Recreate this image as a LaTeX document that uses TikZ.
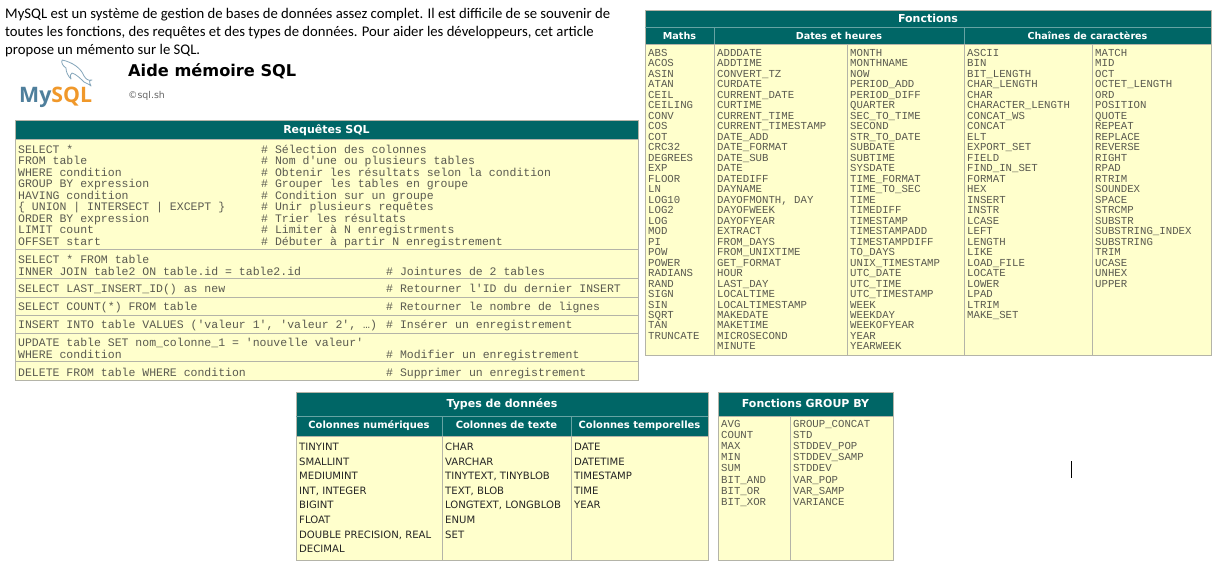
\documentclass[tikz,border=0pt]{standalone}
\usepackage{fontspec}
\setmainfont{Carlito}
\newfontfamily\monof{Liberation Mono}
\newfontfamily\dejav{DejaVu Sans}
\newfontfamily\logof{Open Sans}
\definecolor{teal1}{HTML}{006666}
\definecolor{cream}{HTML}{FFFFCC}
\definecolor{rulec}{HTML}{B4B4A8}
\definecolor{monoc}{HTML}{5A5A50}
\definecolor{logob}{HTML}{4F7F9C}
\definecolor{logoo}{HTML}{F0982A}
\tikzset{
  x=1pt,y=-1pt,
  intro/.style={anchor=west,inner sep=0pt,text height=7pt,text depth=0pt,font=\fontsize{14.7}{14.7}\selectfont,text=black},
  head/.style={fill=teal1,draw=rulec,line width=.8pt},
  body/.style={fill=cream,draw=rulec,line width=.8pt},
  sep/.style={draw=rulec,line width=1pt},
  hsep/.style={draw=teal1!60!white,line width=.8pt},
  title/.style={text=white,inner sep=0pt,text height=8pt,text depth=0pt,font=\dejav\bfseries\fontsize{11}{11}\selectfont},
  sub/.style={text=white,inner sep=0pt,text height=7pt,text depth=0pt,font=\dejav\bfseries\fontsize{9.6}{9.6}\selectfont},
  subb/.style={sub,font=\dejav\bfseries\fontsize{9.95}{9.95}\selectfont},
  req/.style={anchor=west,inner sep=0pt,text height=7pt,text depth=0pt,text=monoc,font=\monof\fontsize{11.5}{11.5}\selectfont},
  fn/.style={anchor=west,inner sep=0pt,text height=7pt,text depth=0pt,text=monoc,font=\monof\fontsize{10.7}{10.7}\selectfont},
  typ/.style={anchor=west,inner sep=0pt,text height=7pt,text depth=0pt,text=black!85,font=\dejav\fontsize{10.1}{10.1}\selectfont},
}
% column of names: x, first y, spacing, style, name prefix, list
\newcommand{\colonne}[6]{%
  \foreach \t [count=\i from 0] in {#6}{%
    \node[#4] (#5\i) at (#1,{#2+\i*#3}) {\t};}}
\begin{document}
\begin{tikzpicture}
\useasboundingbox (0,0) rectangle (1224,583);
\fill[white] (0,0) rectangle (1224,583);
% intro
\node[intro] (i1) at (5,15) {MySQL est un système de gestion de bases de données assez complet. Il est difficile de se souvenir de};
\node[intro] (i2) at (5,33) {toutes les fonctions, des requêtes et des types de données. Pour aider les développeurs, cet article};
\node[intro] (i3) at (5,51) {propose un mémento sur le SQL.};
% logo
\node[anchor=west,inner sep=0pt,text height=15pt,text depth=0pt,text=logob,font=\logof\bfseries\fontsize{21.3}{21.3}\selectfont] (l1) at (19,95) {My\textcolor{logoo}{SQL}};
\draw[logob!70!white,line width=.8pt,fill=white,line join=round]
  (62,60) .. controls (61,63) and (63,66) .. (66,68)
  .. controls (66,72) and (68,76) .. (71,79) .. controls (70,76) and (70,74) .. (72,73)
  .. controls (76,74) and (81,79) .. (84,82) .. controls (86,84) and (88,83) .. (91,86)
  .. controls (89,82) and (89,80) .. (92,80) .. controls (88,81) and (86,79) .. (84,76)
  .. controls (81,68) and (72,62) .. (62,60);
\node[anchor=west,inner sep=0pt,text height=12pt,text depth=0pt,font=\dejav\bfseries\fontsize{16.2}{16.2}\selectfont] (t1) at (128,71) {Aide mémoire SQL};
\node[anchor=west,inner sep=0pt,text height=7pt,text depth=0pt,text=black!60,font=\dejav\fontsize{9.4}{9.4}\selectfont] (t2) at (128,95) {©sql.sh};
% ---------- Requetes
\draw[body] (15,139) rectangle (638,380);
\draw[head] (15,120) rectangle (638,139);
\node[title] (rt) at (326.5,130) {Requêtes SQL};
\foreach \yy in {249,278,297,315,333,361}{\draw[sep] (15,\yy) -- (638,\yy);}
\colonne{18}{149.7}{11.5}{req}{ra}{SELECT *,FROM table,WHERE condition,GROUP BY expression,HAVING condition,{\{ UNION | INTERSECT | EXCEPT \}},ORDER BY expression,LIMIT count,OFFSET start}
\colonne{261}{149.7}{11.5}{req}{rb}{\# Sélection des colonnes,\# Nom d'une ou plusieurs tables,\# Obtenir les résultats selon la condition,\# Grouper les tables en groupe,\# Condition sur un groupe,\# Unir plusieurs requêtes,\# Trier les résultats,\# Limiter à N enregistrments,\# Débuter à partir N enregistrement}
\node[req] (rc1) at (18,259.7) {SELECT * FROM table};
\node[req] (rc2) at (18,271.7) {INNER JOIN table2 ON table.id = table2.id};
\node[req] (rc3) at (18,288.7) {SELECT LAST\_INSERT\_ID() as new};
\node[req] (rc4) at (18,306.7) {SELECT COUNT(*) FROM table};
\node[req] (rc5) at (18,324.7) {INSERT INTO table VALUES ('valeur 1', 'valeur 2', …)};
\node[req] (rc6) at (18,342.7) {UPDATE table SET nom\_colonne\_1 = 'nouvelle valeur'};
\node[req] (rc7) at (18,354.7) {WHERE condition};
\node[req] (rc8) at (18,372.7) {DELETE FROM table WHERE condition};
\node[req] (rd2) at (386,271.7) {\# Jointures de 2 tables};
\node[req] (rd3) at (386,288.7) {\# Retourner l'ID du dernier INSERT};
\node[req] (rd4) at (386,306.7) {\# Retourner le nombre de lignes};
\node[req] (rd5) at (386,324.7) {\# Insérer un enregistrement};
\node[req] (rd7) at (386,354.7) {\# Modifier un enregistrement};
\node[req] (rd8) at (386,372.7) {\# Supprimer un enregistrement};
% ---------- Fonctions
\draw[body] (645,44) rectangle (1211,355);
\draw[head] (645,10) rectangle (1211,44);
\draw[hsep] (645,27) -- (1211,27);
\foreach \xx in {714,964}{\draw[hsep] (\xx,27) -- (\xx,44);}
\foreach \xx in {714,847,964,1092}{\draw[sep] (\xx,44) -- (\xx,355);}
\node[title] (ft) at (928,19) {Fonctions};
\node[sub] (f1) at (679.5,36) {Maths};
\node[sub] (f2) at (839,36) {Dates et heures};
\node[sub] (f3) at (1087.5,36) {Chaînes de caractères};
\colonne{648}{53}{10.48}{fn}{fa}{ABS,ACOS,ASIN,ATAN,CEIL,CEILING,CONV,COS,COT,CRC32,DEGREES,EXP,FLOOR,LN,LOG10,LOG2,LOG,MOD,PI,POW,POWER,RADIANS,RAND,SIGN,SIN,SQRT,TAN,TRUNCATE}
\colonne{717}{53}{10.48}{fn}{fb}{ADDDATE,ADDTIME,CONVERT\_TZ,CURDATE,CURRENT\_DATE,CURTIME,CURRENT\_TIME,CURRENT\_TIMESTAMP,DATE\_ADD,DATE\_FORMAT,DATE\_SUB,DATE,DATEDIFF,DAYNAME,{DAYOFMONTH, DAY},DAYOFWEEK,DAYOFYEAR,EXTRACT,FROM\_DAYS,FROM\_UNIXTIME,GET\_FORMAT,HOUR,LAST\_DAY,LOCALTIME,LOCALTIMESTAMP,MAKEDATE,MAKETIME,MICROSECOND,MINUTE}
\colonne{850}{53}{10.48}{fn}{fc}{MONTH,MONTHNAME,NOW,PERIOD\_ADD,PERIOD\_DIFF,QUARTER,SEC\_TO\_TIME,SECOND,STR\_TO\_DATE,SUBDATE,SUBTIME,SYSDATE,TIME\_FORMAT,TIME\_TO\_SEC,TIME,TIMEDIFF,TIMESTAMP,TIMESTAMPADD,TIMESTAMPDIFF,TO\_DAYS,UNIX\_TIMESTAMP,UTC\_DATE,UTC\_TIME,UTC\_TIMESTAMP,WEEK,WEEKDAY,WEEKOFYEAR,YEAR,YEARWEEK}
\colonne{967}{53}{10.48}{fn}{fd}{ASCII,BIN,BIT\_LENGTH,CHAR\_LENGTH,CHAR,CHARACTER\_LENGTH,CONCAT\_WS,CONCAT,ELT,EXPORT\_SET,FIELD,FIND\_IN\_SET,FORMAT,HEX,INSERT,INSTR,LCASE,LEFT,LENGTH,LIKE,LOAD\_FILE,LOCATE,LOWER,LPAD,LTRIM,MAKE\_SET}
\colonne{1095}{53}{10.48}{fn}{fe}{MATCH,MID,OCT,OCTET\_LENGTH,ORD,POSITION,QUOTE,REPEAT,REPLACE,REVERSE,RIGHT,RPAD,RTRIM,SOUNDEX,SPACE,STRCMP,SUBSTR,SUBSTRING\_INDEX,SUBSTRING,TRIM,UCASE,UNHEX,UPPER}
% ---------- Types
\draw[body] (296,436) rectangle (708,560);
\draw[head] (296,392) rectangle (708,436);
\draw[hsep] (296,416) -- (708,416);
\foreach \xx in {442,571}{\draw[hsep] (\xx,416) -- (\xx,436);\draw[sep] (\xx,436) -- (\xx,560);}
\node[title] (tt) at (502,403) {Types de données};
\node[subb] (t1a) at (369,425) {Colonnes numériques};
\node[subb] (t2a) at (506.5,425) {Colonnes de texte};
\node[subb] (t3a) at (639.5,425) {Colonnes temporelles};
\colonne{299}{447}{14.6}{typ}{ta}{TINYINT,SMALLINT,MEDIUMINT,{INT, INTEGER},BIGINT,FLOAT,{DOUBLE PRECISION, REAL},DECIMAL}
\colonne{445}{447}{14.6}{typ}{tb}{CHAR,VARCHAR,{TINYTEXT, TINYBLOB},{TEXT, BLOB},{LONGTEXT, LONGBLOB},ENUM,SET}
\colonne{574}{447}{14.6}{typ}{tc}{DATE,DATETIME,TIMESTAMP,TIME,YEAR}
% ---------- Group by
\draw[body] (718,416) rectangle (893,560);
\draw[head] (718,392) rectangle (893,416);
\draw[sep] (790,416) -- (790,560);
\node[title] (gt) at (805.5,403) {Fonctions GROUP BY};
\colonne{721}{424}{11.1}{fn}{ga}{AVG,COUNT,MAX,MIN,SUM,BIT\_AND,BIT\_OR,BIT\_XOR}
\colonne{793}{424}{11.1}{fn}{gb}{GROUP\_CONCAT,STD,STDDEV\_POP,STDDEV\_SAMP,STDDEV,VAR\_POP,VAR\_SAMP,VARIANCE}
% text cursor
\draw[black,line width=1pt] (1071,461) -- (1071,478);
\end{tikzpicture}
\end{document}
